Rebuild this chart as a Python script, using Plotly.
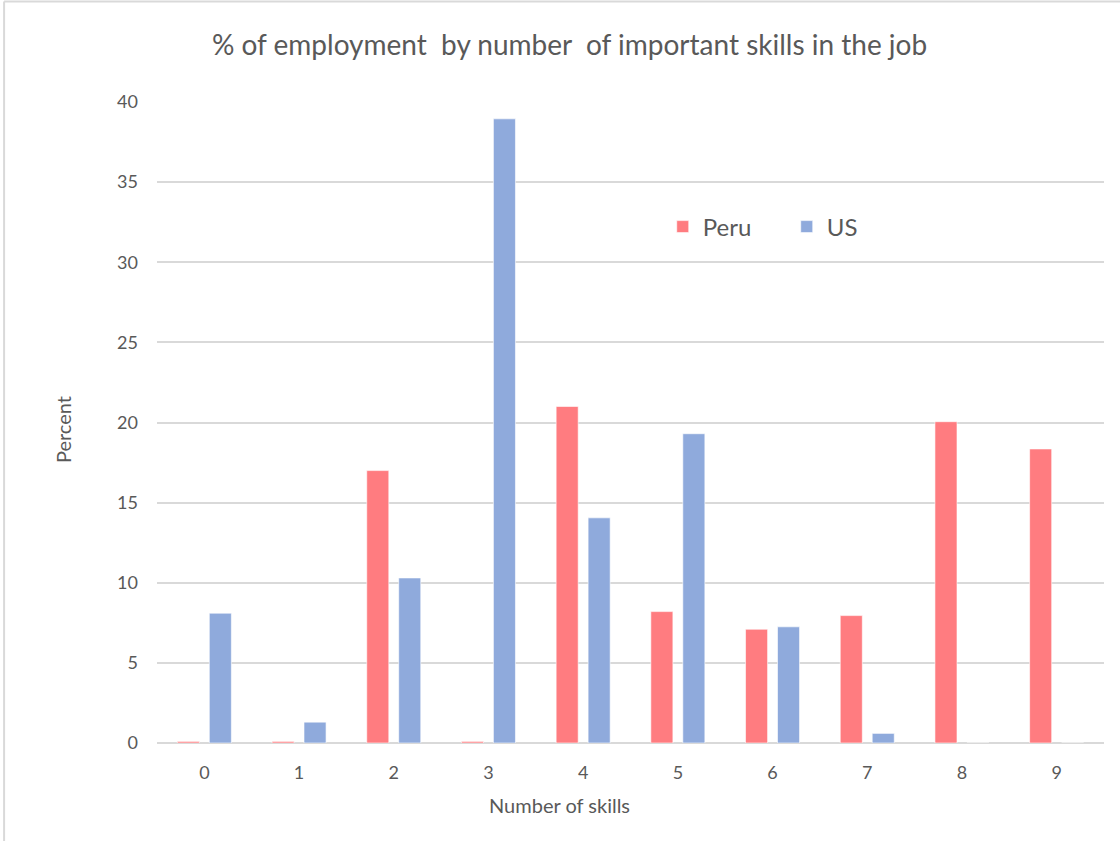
import plotly.graph_objects as go

categories = ["0", "1", "2", "3", "4", "5", "6", "7", "8", "9"]
peru = [0.1, 0.1, 17.0, 0.1, 21.0, 8.2, 7.1, 7.95, 20.05, 18.35]
us = [8.1, 1.3, 10.3, 38.95, 14.05, 19.3, 7.25, 0.6, 0.0, 0.0]
y_ticks = [0, 5, 10, 15, 20, 25, 30, 35, 40]

FONT = "Lato"
GRAY = "#595959"

fig = go.Figure()
fig.add_trace(go.Bar(x=categories, y=peru, name="Peru",
                     marker=dict(color="#FF7C80", line=dict(color="rgba(255,255,255,0.6)", width=1))))
fig.add_trace(go.Bar(x=categories, y=us, name="US",
                     marker=dict(color="#8FAADC", line=dict(color="rgba(255,255,255,0.6)", width=1))))

W, H = 1120, 841
L, R, T, B = 157, 15.5, 102, 98
pw, ph = W - L - R, H - T - B

def px2x(px):
    return (px - L) / pw

def py2y(py):
    return (H - B - py) / ph

fig.update_layout(
    width=W, height=H,
    margin=dict(l=L, r=R, t=T, b=B, pad=0),
    paper_bgcolor="white", plot_bgcolor="white",
    barmode="group", bargap=0.325, bargroupgap=0.31,
    font=dict(family=FONT, color=GRAY),
    title=dict(text="% of employment\u00a0 by number\u00a0 of important skills in the job",
               x=569.5 / W, xanchor="center", y=1 - 45 / H, yanchor="middle",
               font=dict(size=28, color=GRAY, family=FONT)),
    legend=dict(orientation="h", x=px2x(663), xanchor="left", y=py2y(227), yanchor="middle",
                font=dict(size=24, color=GRAY, family=FONT), bgcolor="rgba(0,0,0,0)",
                entrywidth=79, itemwidth=30),
    xaxis=dict(type="category", showgrid=False, showline=False, zeroline=False,
               ticks="", tickfont=dict(size=18, color=GRAY), ticklabelstandoff=17),
    yaxis=dict(range=[0, 40], tickvals=y_ticks, showgrid=True, gridcolor="#d9d9d9", gridwidth=1.5,
               zeroline=True, zerolinecolor="#d9d9d9", zerolinewidth=2, showline=False,
               ticks="", tickfont=dict(size=18, color=GRAY), ticklabelstandoff=18),
    annotations=[
        dict(text="Percent", xref="paper", yref="paper", x=px2x(63), y=py2y(430),
             xanchor="center", yanchor="middle", textangle=-90, showarrow=False,
             font=dict(size=20, color=GRAY, family=FONT)),
        dict(text="Number of skills", xref="paper", yref="paper", x=px2x(560), y=py2y(805),
             xanchor="center", yanchor="middle", showarrow=False,
             font=dict(size=20, color=GRAY, family=FONT)),
    ],
    shapes=[
        dict(type="line", xref="paper", yref="paper", x0=px2x(4), x1=px2x(1125), y0=py2y(1.5), y1=py2y(1.5),
             line=dict(color="#d9d9d9", width=2)),
        dict(type="line", xref="paper", yref="paper", x0=px2x(4), x1=px2x(4), y0=py2y(1.5), y1=py2y(850),
             line=dict(color="#d9d9d9", width=2)),
    ],
)

fig.write_html("out.html", config={"displayModeBar": False},
               post_script="document.body.style.margin='0';document.body.style.overflow='hidden';")
